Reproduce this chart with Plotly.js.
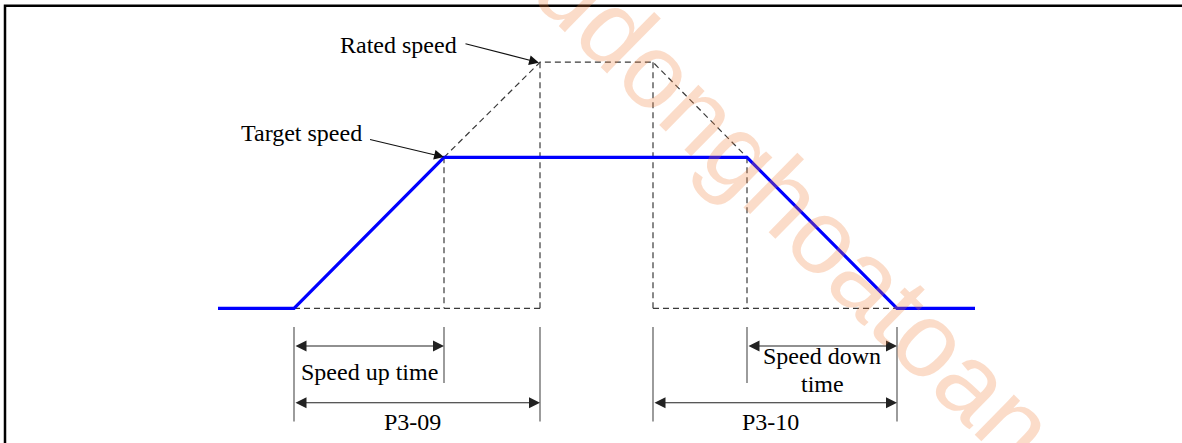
<!DOCTYPE html>
<html>
<head>
<meta charset="utf-8">
<script src="https://cdn.plot.ly/plotly-3.0.1.min.js"></script>
<style>html,body{margin:0;padding:0;background:#fff;}#chart{width:1182px;height:443px;}</style>
</head>
<body>
<div id="chart"></div>
<script>
// ---- data (time in arbitrary units, speed in % of target speed) ----
const profileTimes  = [-76, 0, 150, 453, 603, 681];   // target-speed profile (blue)
const profileSpeeds = [0, 0, 100, 100, 0, 0];
const ratedTimes    = [150, 246, 359, 453];           // rated-speed extension (dashed)
const ratedSpeeds   = [100, 163, 163, 100];
const guideTimes    = [150, 246, 359, 453];           // vertical dashed guides
const guideTops     = [100, 163, 163, 100];
const baseSegStart  = [0, 359];                       // dashed zero-speed baseline
const baseSegEnd    = [246, 603];
const extTimes      = [0, 150, 246, 359, 453, 603];   // dimension extension lines
const extBottoms    = [-75, -49.5, -75, -75, -49.5, -75];
const dimStart      = [0, 0, 453, 359];
const dimEnd        = [150, 246, 603, 603];
const dimLevels     = [-25, -62.5, -25, -62.5];
const dimLabels     = ['Speed up time', 'P3-09', 'Speed down', 'P3-10'];
const dimLabelY     = [-42.2, -75.3, -31.6, -75.3];
const extraLabel    = 'time';
const extraLabelY   = -49.8;
const calloutLabels = ['Rated speed', 'Target speed'];
const calloutTextT  = [104.6, 7.4];
const calloutTextS  = [174.6, 116.1];
const calloutTailT  = [170, 74.5];
const calloutTailS  = [175.5, 112.1];
const calloutHeadT  = [245, 150];
const calloutHeadS  = [162.7, 100.2];
const watermark     = 'tudonghoatoancau.com';

// ---- traces ----
const traces = [];
// rated-speed dashed outline
const dx = [], dy = [];
ratedTimes.forEach((t, i) => { dx.push(t); dy.push(ratedSpeeds[i]); });
dx.push(null); dy.push(null);
guideTimes.forEach((t, i) => { dx.push(t, t, null); dy.push(guideTops[i], 0, null); });
baseSegStart.forEach((t, i) => { dx.push(t, baseSegEnd[i], null); dy.push(0, 0, null); });
traces.push({x: dx, y: dy, mode: 'lines', connectgaps: false,
  line: {color: '#3a3a3a', width: 1.2, dash: '6px,4px'}, hoverinfo: 'skip'});
// extension lines of dimensions
const ex = [], ey = [];
extTimes.forEach((t, i) => { ex.push(t, t, null); ey.push(-12.4, extBottoms[i], null); });
traces.push({x: ex, y: ey, mode: 'lines', line: {color: '#4a4a4a', width: 1.1}, hoverinfo: 'skip'});
// blue speed profile
traces.push({x: profileTimes, y: profileSpeeds, mode: 'lines',
  line: {color: '#0000FF', width: 3.2}, hoverinfo: 'skip'});

// ---- annotations ----
const serif = {family: '"Liberation Serif", "Times New Roman", serif', size: 24, color: '#000'};
const ann = [];
dimStart.forEach((s, i) => {
  ann.push({x: dimEnd[i], y: dimLevels[i], ax: s, ay: dimLevels[i], xref: 'x', yref: 'y',
    axref: 'x', ayref: 'y', text: '', showarrow: true, arrowside: 'end+start',
    arrowhead: 2, arrowsize: 2, arrowwidth: 1.1, arrowcolor: '#222', standoff: 0, startstandoff: 0});
});
dimLabels.forEach((lab, i) => {
  const shift = (lab.indexOf('P3') === 0) ? -5 : 0;
  ann.push({x: (dimStart[i] + dimEnd[i]) / 2, y: dimLabelY[i], xref: 'x', yref: 'y', text: lab,
    showarrow: false, font: serif, xanchor: 'center', yanchor: 'middle', xshift: shift});
});
ann.push({x: (dimStart[2] + dimEnd[2]) / 2, y: extraLabelY, xref: 'x', yref: 'y', text: extraLabel,
  showarrow: false, font: serif, xanchor: 'center', yanchor: 'middle'});
calloutLabels.forEach((lab, i) => {
  ann.push({x: calloutTextT[i], y: calloutTextS[i], xref: 'x', yref: 'y', text: lab,
    showarrow: false, font: serif, xanchor: 'center', yanchor: 'middle'});
  ann.push({x: calloutHeadT[i], y: calloutHeadS[i], ax: calloutTailT[i], ay: calloutTailS[i],
    xref: 'x', yref: 'y', axref: 'x', ayref: 'y', text: '', showarrow: true,
    arrowhead: 2, arrowsize: 1.8, arrowwidth: 1.1, arrowcolor: '#111', standoff: 0, startstandoff: 0});
});
// watermark
ann.push({x: 928 / 1182, y: 1 - 337 / 443, xref: 'paper', yref: 'paper', text: watermark,
  showarrow: false, textangle: 44.5, xanchor: 'center', yanchor: 'middle',
  font: {family: '"Liberation Sans", Arial, sans-serif', size: 106, color: 'rgba(240,130,60,0.28)'}});

// ---- frame ----
const W = 1182, H = 443;
const shapes = [{type: 'path', xref: 'paper', yref: 'paper',
  path: `M ${5 / W},-0.05 L ${5 / W},${1 - 5.8 / H} L 1.01,${1 - 5.8 / H}`,
  line: {color: '#000', width: 2.5}}];

const layout = {
  width: W, height: H, margin: {l: 0, r: 0, t: 0, b: 0},
  paper_bgcolor: '#fff', plot_bgcolor: '#fff', showlegend: false, hovermode: false,
  xaxis: {range: [-294, 888], visible: false, fixedrange: true},
  yaxis: {range: [-89.2, 204.2], visible: false, fixedrange: true},
  annotations: ann, shapes: shapes
};
Plotly.newPlot('chart', traces, layout, {staticPlot: true, displayModeBar: false});
</script>
</body>
</html>
